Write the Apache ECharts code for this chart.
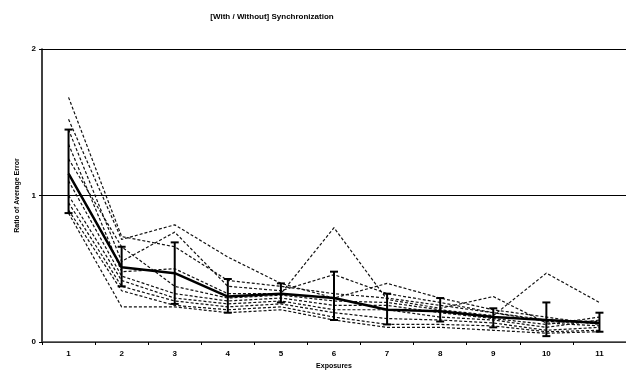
<!DOCTYPE html>
<html>
<head>
<meta charset="utf-8">
<script src="https://cdn.jsdelivr.net/npm/echarts@6/dist/echarts.min.js"></script>
<style>
  html, body { margin: 0; padding: 0; background: #fff; }
  #chart { width: 626px; height: 375px; }
</style>
</head>
<body>
<div id="chart"></div>
<script>
// exposures on the x axis
var exposures = ['1', '2', '3', '4', '5', '6', '7', '8', '9', '10', '11'];

// individual runs (dashed)
var run1  = [1.67, 0.72, 0.65, 0.42, 0.38, 0.33, 0.30, 0.25, 0.20, 0.15, 0.14];
var run2  = [1.52, 0.70, 0.80, 0.58, 0.40, 0.30, 0.40, 0.30, 0.22, 0.17, 0.12];
var run3  = [1.45, 0.55, 0.75, 0.38, 0.35, 0.46, 0.33, 0.27, 0.20, 0.14, 0.13];
var run4  = [1.35, 0.48, 0.50, 0.33, 0.33, 0.78, 0.29, 0.23, 0.31, 0.13, 0.11];
var run5  = [1.25, 0.65, 0.38, 0.30, 0.32, 0.28, 0.27, 0.22, 0.18, 0.47, 0.27];
var run6  = [1.10, 0.45, 0.33, 0.28, 0.30, 0.25, 0.25, 0.20, 0.16, 0.12, 0.17];
var run7  = [1.00, 0.42, 0.30, 0.26, 0.28, 0.22, 0.22, 0.17, 0.15, 0.10, 0.15];
var run8  = [0.95, 0.38, 0.28, 0.24, 0.26, 0.20, 0.16, 0.15, 0.13, 0.08, 0.10];
var run9  = [0.90, 0.35, 0.25, 0.22, 0.24, 0.17, 0.12, 0.12, 0.11, 0.07, 0.08];
var run10 = [0.88, 0.24, 0.24, 0.20, 0.22, 0.15, 0.10, 0.10, 0.08, 0.06, 0.07];

// mean with error bars
var meanVals = [1.15, 0.51, 0.47, 0.31, 0.33, 0.30, 0.22, 0.21, 0.17, 0.15, 0.13];
var errLow   = [0.88, 0.38, 0.26, 0.20, 0.27, 0.15, 0.12, 0.14, 0.10, 0.04, 0.07];
var errHigh  = [1.45, 0.65, 0.68, 0.43, 0.40, 0.48, 0.33, 0.30, 0.23, 0.27, 0.20];

var yTicks = [0, 1, 2];

var runs = [run1, run2, run3, run4, run5, run6, run7, run8, run9, run10];
var fontFam = '"Liberation Sans", Arial, sans-serif';

var series = [];
for (var i = 0; i < runs.length; i++) {
    series.push({
        type: 'line',
        data: runs[i],
        symbol: 'none',
        silent: true,
        lineStyle: { color: '#111', width: 1.2, type: [3, 2] },
        z: 2
    });
}
series.push({
    type: 'line',
    data: meanVals,
    symbol: 'none',
    lineStyle: { color: '#000', width: 2.5 },
    z: 5
});

var barData = [];
for (var j = 0; j < exposures.length; j++) {
    barData.push([j, errLow[j], errHigh[j]]);
}
series.push({
    type: 'custom',
    data: barData,
    z: 6,
    renderItem: function (params, api) {
        var lo = api.coord([api.value(0), api.value(1)]);
        var hi = api.coord([api.value(0), api.value(2)]);
        var w = 4;
        var st = { stroke: '#000', lineWidth: 2 };
        return {
            type: 'group',
            children: [
                { type: 'line', shape: { x1: lo[0], y1: lo[1], x2: hi[0], y2: hi[1] }, style: st },
                { type: 'line', shape: { x1: lo[0] - w, y1: lo[1], x2: lo[0] + w, y2: lo[1] }, style: st },
                { type: 'line', shape: { x1: hi[0] - w, y1: hi[1], x2: hi[0] + w, y2: hi[1] }, style: st }
            ]
        };
    }
});

var chart = echarts.init(document.getElementById('chart'), null, { renderer: 'canvas' });
chart.setOption({
    backgroundColor: '#fff',
    animation: false,
    title: {
        text: '[With / Without] Synchronization',
        left: 267,
        top: 8,
        textAlign: 'center',
        textStyle: { fontSize: 8, fontWeight: 'bold', color: '#000', fontFamily: fontFam }
    },
    grid: { left: 42, top: 49, width: 588, height: 294, containLabel: false },
    xAxis: {
        type: 'category',
        data: exposures,
        boundaryGap: true,
        name: 'Exposures',
        nameLocation: 'middle',
        nameGap: 21,
        nameTextStyle: { fontSize: 7, fontWeight: 'bold', color: '#000', fontFamily: fontFam },
        axisLine: { lineStyle: { color: '#444', width: 1.5 } },
        axisTick: { show: true, length: 3, lineStyle: { color: '#000' } },
        axisLabel: { fontSize: 8, fontWeight: 'bold', color: '#000', margin: 8, fontFamily: fontFam },
        splitLine: { show: false }
    },
    yAxis: {
        type: 'value',
        min: yTicks[0],
        max: yTicks[yTicks.length - 1],
        interval: 1,
        name: 'Ratio of Average Error',
        nameLocation: 'middle',
        nameGap: 16,
        nameTextStyle: { fontSize: 7, fontWeight: 'bold', color: '#000', fontFamily: fontFam },
        axisLine: { show: true, lineStyle: { color: '#000', width: 1.5 } },
        axisTick: { show: true, length: 3, lineStyle: { color: '#000' } },
        axisLabel: { fontSize: 8, fontWeight: 'bold', color: '#000', margin: 6, fontFamily: fontFam },
        splitLine: { show: true, lineStyle: { color: '#000', width: 1.2 } }
    },
    series: series
});
</script>
</body>
</html>
